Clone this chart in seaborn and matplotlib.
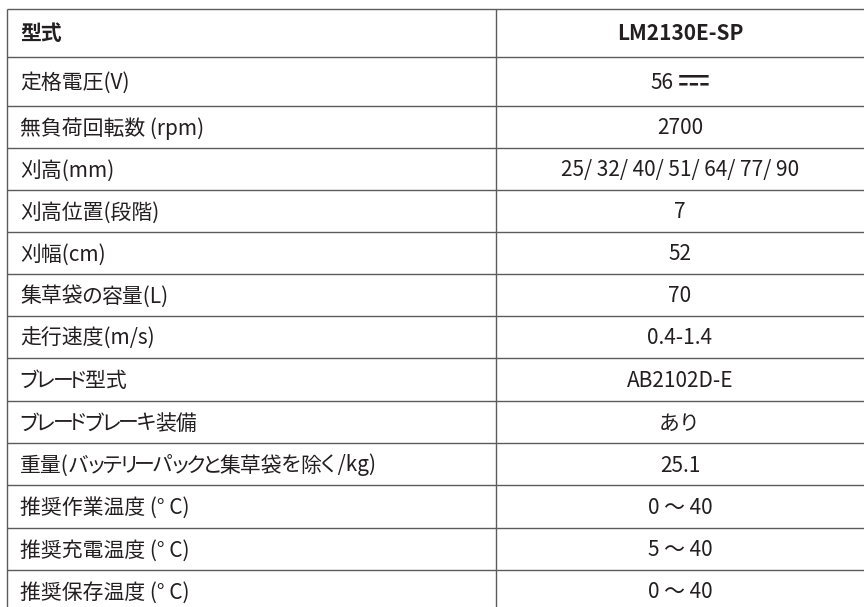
import matplotlib
matplotlib.use('Agg')
import matplotlib.pyplot as plt
from matplotlib import font_manager, ft2font
from matplotlib.font_manager import FontProperties
from matplotlib.textpath import TextPath
import seaborn as sns
import numpy as np

# Table content
header = ['型式', 'LM2130E-SP']
items = [
    '定格電圧(V)',
    '無負荷回転数 (rpm)',
    '刈高(mm)',
    '刈高位置(段階)',
    '刈幅(cm)',
    '集草袋の容量(L)',
    '走行速度(m/s)',
    'ブレード型式',
    'ブレードブレーキ装備',
    '重量(バッテリーパックと集草袋を除く /kg)',
    '推奨作業温度 (° C)',
    '推奨充電温度 (° C)',
    '推奨保存温度 (° C)',
]
values = [
    '56',
    '2700',
    '25/ 32/ 40/ 51/ 64/ 77/ 90',
    '7',
    '52',
    '70',
    '0.4-1.4',
    'AB2102D-E',
    'あり',
    '25.1',
    '0 ～ 40',
    '5 ～ 40',
    '0 ～ 40',
]
dc_symbol = '\u2393'

# Layout (pixels)
W, H = 864, 607
top = 9
row_h = [48, 49, 42, 42, 42, 42, 42, 42, 43, 42, 42, 43, 42, 42]
x_left, x_div, x_right = 7, 496, 864
line_color = '#5c5c5c'
text_color = '#231f20'
fs = 15
PX = 100 / 72          # points -> pixels
EM = fs * PX
KANA_PAD = 0.03 * EM   # side bearing kept on proportional kana


def find_family(cp):
    for f in font_manager.fontManager.ttflist:
        try:
            if cp in ft2font.FT2Font(f.fname).get_charmap():
                return f.name
        except Exception:
            pass
    return None


def ink(txt, prop, size):
    ext = TextPath((0, 0), txt, size=size, prop=prop).get_extents()
    return ext.x0 * PX, ext.x1 * PX, ext.y0 * PX, ext.y1 * PX


def is_kana(ch):
    return 0x3040 <= ord(ch) <= 0x30FF


ft_cache = {}


def advance(txt, prop):
    path = font_manager.findfont(prop)
    if path not in ft_cache:
        f = ft2font.FT2Font(path)
        f.set_size(fs, 100)
        ft_cache[path] = f
    f = ft_cache[path]
    return sum(f.load_char(ord(c)).linearHoriAdvance for c in txt) / 65536


def draw_label(ax, x, y, s, prop):
    # kana get proportional widths (like the 'palt' setting of the original)
    runs = []
    for ch in s:
        if is_kana(ch) or not runs or runs[-1][0]:
            runs.append([is_kana(ch), ch])
        else:
            runs[-1][1] += ch
    cur = x
    for kana, txt in runs:
        if kana:
            x0, x1, _, _ = ink(txt, prop, fs)
            ax.text(cur + KANA_PAD - x0, y, txt, ha='left', va='baseline',
                    fontproperties=prop, color=text_color)
            cur += (x1 - x0) + 2 * KANA_PAD
        else:
            ax.text(cur, y, txt, ha='left', va='baseline',
                    fontproperties=prop, color=text_color)
            cur += advance(txt, prop)


sns.set_theme(style='white')
plt.rcParams['font.family'] = ['Noto Sans CJK JP', 'DejaVu Sans']

fig = plt.figure(figsize=(W / 100, H / 100), dpi=100)
ax = fig.add_axes([0, 0, 1, 1])
ax.set_xlim(0, W)
ax.set_ylim(H, 0)
ax.axis('off')

edges = top + np.concatenate([[0], np.cumsum(row_h)])
ax.hlines(edges, x_left, x_right, color=line_color, lw=1.0)
ax.vlines([x_left, x_div], edges[0], edges[-1], color=line_color, lw=1.0)

labels = [header[0]] + items
vals = [header[1]] + values
centers = (edges[:-1] + edges[1:]) / 2
baselines = centers + 0.36 * EM
x_mid = (x_div + x_right) / 2
dc_family = find_family(ord(dc_symbol))

for i, (lab, val) in enumerate(zip(labels, vals)):
    prop = FontProperties(family=['Noto Sans CJK JP'], size=fs,
                          weight='bold' if i == 0 else 'normal')
    draw_label(ax, x_left + 13, baselines[i], lab, prop)
    if i == 1 and dc_family:
        # number followed by the DC sign, drawn larger like the original
        sym_prop = FontProperties(family=dc_family, size=28)
        nx0, nx1, _, _ = ink(val, prop, fs)
        sx0, sx1, sy0, sy1 = ink(dc_symbol, sym_prop, 28)
        gap = 6
        total = (nx1 - nx0) + gap + (sx1 - sx0)
        start = x_mid - total / 2
        ax.text(start - nx0, baselines[i], val, ha='left', va='baseline',
                fontproperties=prop, color=text_color)
        sx = start + (nx1 - nx0) + gap
        ax.text(sx - sx0, centers[i] - 1.5 + (sy0 + sy1) / 2, dc_symbol,
                ha='left', va='baseline', fontproperties=sym_prop, color=text_color)
    else:
        ax.text(x_mid, baselines[i], val, ha='center', va='baseline',
                fontproperties=prop, color=text_color)

fig.savefig('out.png', dpi=100)
